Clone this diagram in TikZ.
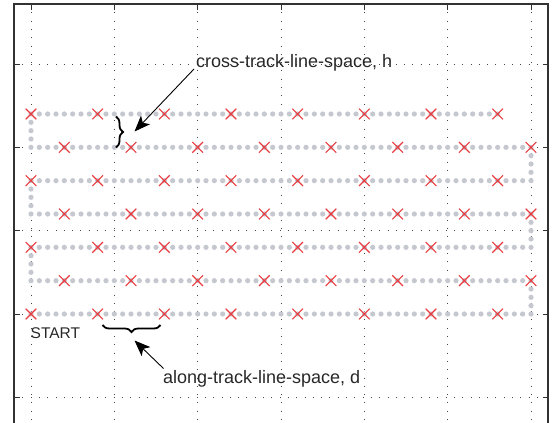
\documentclass[tikz,border=0pt]{standalone}
\usepackage{fontspec}
\setmainfont{Liberation Sans}
\usetikzlibrary{arrows.meta,decorations.pathreplacing}
\definecolor{dotc}{RGB}{198,200,208}
\definecolor{xred}{RGB}{232,60,64}
\definecolor{gridc}{RGB}{70,70,70}
\definecolor{boxc}{RGB}{50,50,50}
\definecolor{txtc}{RGB}{40,40,40}
\tikzset{
  gridline/.style={gridc,line width=0.8pt,dash pattern=on 0.9pt off 7.4pt},
  axisbox/.style={boxc,line width=1.6pt},
  tickmark/.style={boxc,line width=0.9pt},
  pathdot/.style={fill=dotc},
  xmark/.style={xred,line width=1.1pt},
  bracestyle/.style={black,line width=1.8pt,decorate,decoration={brace,amplitude=7pt}},
  annarrow/.style={black,line width=0.9pt,-{Stealth[length=16pt,width=12.5pt,inset=4pt]}},
  bigtext/.style={txtc,inner sep=0pt,font=\fontsize{18}{20}\selectfont},
  smalltext/.style={txtc,inner sep=0pt,font=\fontsize{15.5}{17}\selectfont}
}
\begin{document}
\begin{tikzpicture}[x=1pt,y=-1pt]
\useasboundingbox[fill=white] (0,0) rectangle (552,423);
% grid
\foreach \k in {0,...,6} {
  \draw[gridline] (31+83.3333*\k,4) -- (31+83.3333*\k,423);
}
\foreach \k in {0,...,4} {
  \draw[gridline] (14,64+83.3333*\k) -- (548,64+83.3333*\k);
}
% ticks
\foreach \k in {0,...,6} {
  \draw[tickmark] (31+83.3333*\k,4) -- (31+83.3333*\k,9.5);
}
\foreach \k in {0,...,4} {
  \draw[tickmark] (14,64+83.3333*\k) -- (19.5,64+83.3333*\k);
  \draw[tickmark] (548,64+83.3333*\k) -- (542.5,64+83.3333*\k);
}
% axis box (bottom edge outside picture)
\draw[axisbox] (14,423) -- (14,4) -- (548,4) -- (548,423);
% path dots along rows
\foreach \j in {0,...,6} {
  \pgfmathsetmacro\Y{314-33.33333*\j}
  \pgfmathtruncatemacro\imax{\j==6 ? 56 : 60}
  \foreach \i in {0,...,\imax} {
    \fill[pathdot] (31+8.333333*\i,\Y) circle (2.6);
  }
}
% path dots on turns
\foreach \j in {0,...,5} {
  \pgfmathsetmacro\XX{mod(\j,2)==0 ? 531 : 31}
  \foreach \k in {1,2,3} {
    \fill[pathdot] (\XX,314-33.33333*\j-8.333333*\k) circle (2.6);
  }
}
% X markers
\foreach \j in {0,...,6} {
  \pgfmathsetmacro\Y{314-33.33333*\j}
  \pgfmathsetmacro\XO{mod(\j,2)==0 ? 31 : 64.33333}
  \foreach \m in {0,...,7} {
    \draw[xmark] (\XO+66.66667*\m-5.3,\Y-5.3) -- ++(10.6,10.6)
                 (\XO+66.66667*\m-5.3,\Y+5.3) -- ++(10.6,-10.6);
  }
}
% braces
\draw[bracestyle] (116,116.5) -- (116,147.5);
\draw[bracestyle] (160.5,325) -- (102.5,325);
% labels
\node[bigtext,anchor=base west] (hlabel) at (196,67) {cross-track-line-space, h};
\node[bigtext,anchor=base west] (dlabel) at (163,383) {along-track-line-space, d};
\node[smalltext,anchor=base west] (start) at (30.5,338) {START};
% arrows
\coordinate (htail) at (194,69);
\coordinate (htip) at (134.5,131.5);
\coordinate (dtail) at (163.5,368.5);
\coordinate (dtip) at (134.5,340.5);
\draw[annarrow] (htail) -- (htip);
\draw[annarrow] (dtail) -- (dtip);
\end{tikzpicture}
\end{document}
